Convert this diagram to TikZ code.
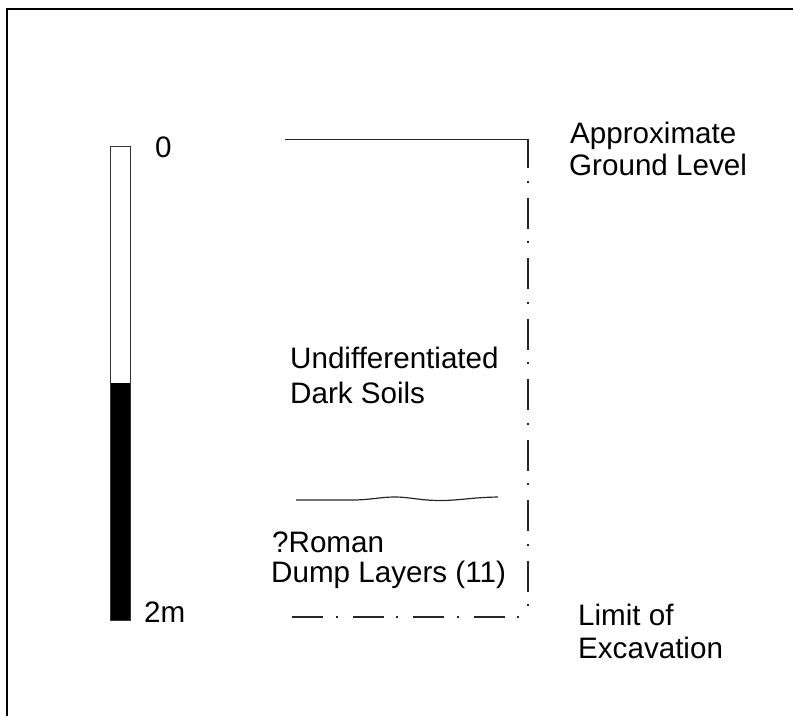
\documentclass[tikz,border=0pt]{standalone}
\usepackage{fontspec}
\setmainfont{Liberation Sans}
\begin{document}
\begin{tikzpicture}[x=1pt,y=-1pt,
  lbl/.style={anchor=base west, inner sep=0pt, font=\fontsize{29.6}{33}\selectfont},
  strat/.style={line width=1.5pt, draw=black!85},
  dashdot/.style={strat, dash pattern=on 31pt off 12.5pt on 2pt off 15pt}]
\useasboundingbox (0,0) rectangle (793,716);
% sheet border
\draw[line width=2pt] (7,716) -- (7,9) -- (793,9);
% scale bar 0--2 m
\fill[black] (110,383) rectangle (130,620);
\draw[line width=1pt, draw=black!80] (110,146) rectangle (130,620);
\node[lbl] (zero) at (155,157) {0};
\node[lbl] (twom) at (144,622) {2m};
% section outline
\draw[strat] (285,139.5) -- (528.75,139.5);
\draw[dashdot, dash phase=1.5pt] (528,138.75) -- (528,610);
\draw[dashdot] (292,617) -- (519,617);
% layer boundary
\draw[strat, line width=1.2pt] (296,500) -- (352,500)
  .. controls (370,500) and (380,497) .. (395,497)
  .. controls (410,497) and (420,500.5) .. (440,500.5)
  .. controls (460,500.5) and (470,497.5) .. (498,497);
% labels
\node[lbl] (gl1) at (570,143) {Approximate};
\node[lbl] (gl2) at (569,175) {Ground Level};
\node[lbl] (ds1) at (290,368) {Undifferentiated};
\node[lbl] (ds2) at (290,403) {Dark Soils};
\node[lbl] (rm1) at (272,552) {?Roman};
\node[lbl] (rm2) at (271,582) {Dump Layers (11)};
\node[lbl] (le1) at (578,625) {Limit of};
\node[lbl] (le2) at (578,658) {Excavation};
\end{tikzpicture}
\end{document}
